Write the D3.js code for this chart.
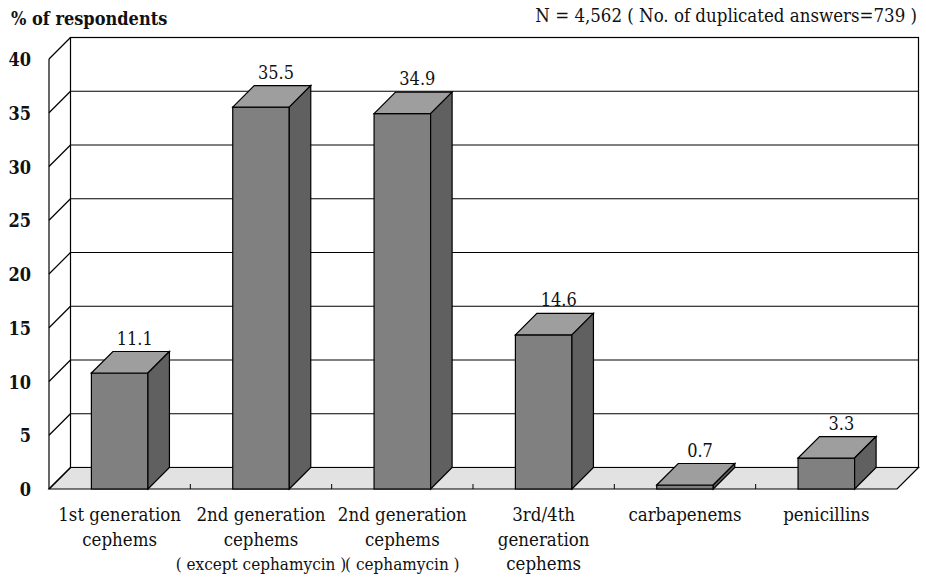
<!DOCTYPE html>
<html>
<head>
<meta charset="utf-8">
<script src="https://cdn.jsdelivr.net/npm/d3@7"></script>
<style>
  body { margin: 0; background: #fff; }
  text { font-family: "DejaVu Serif", serif; font-stretch: condensed; fill: #111; }
</style>
</head>
<body>
<svg width="926" height="577"></svg>
<script>
// data
const categories = ["1st gen", "2nd gen ex", "2nd gen cm", "3rd/4th gen", "carbapenems", "penicillins"];
const catLabels = [
  ["1st generation", "cephems"],
  ["2nd generation", "cephems", "( except cephamycin )"],
  ["2nd generation", "cephems", "( cephamycin )"],
  ["3rd/4th", "generation", "cephems"],
  ["carbapenems"],
  ["penicillins"]
];
const percents = [11.1, 35.5, 34.9, 14.6, 0.7, 3.3];
const yTicks = [0, 5, 10, 15, 20, 25, 30, 35, 40];
const yTitle = "% of respondents";
const note = "N = 4,562 ( No. of duplicated answers=739 )";

const svg = d3.select("svg");
const depth = 21.5; // 3d offset (right / up)

const x = d3.scaleBand()
  .domain(categories)
  .range([49, 897])
  .paddingInner(0.6)
  .paddingOuter(0.3);

// axis / gridline scale on the front plane
const y = d3.scaleLinear().domain([0, 40]).range([489, 59]);
// bars in the original sit a little off the gridlines
const yBar = d3.scaleLinear().domain([0, 40]).range([494, 58]);

const x0 = x.range()[0], x1 = x.range()[1];

// back wall
svg.append("rect")
  .attr("x", x0 + depth).attr("y", y(40) - depth)
  .attr("width", x1 - x0).attr("height", y(0) - y(40))
  .attr("fill", "#fff").attr("stroke", "#000").attr("stroke-width", 1.2);

// gridlines on back wall
svg.append("g").selectAll("line")
  .data(yTicks.slice(1, -1))
  .join("line")
  .attr("x1", x0 + depth).attr("x2", x1 + depth)
  .attr("y1", d => y(d) - depth).attr("y2", d => y(d) - depth)
  .attr("stroke", "#000").attr("stroke-width", 1.2);

// floor
svg.append("path")
  .attr("d", `M${x0},${y(0)} L${x1},${y(0)} L${x1 + depth},${y(0) - depth} L${x0 + depth},${y(0) - depth} Z`)
  .attr("fill", "#e2e2e2").attr("stroke", "#000").attr("stroke-width", 1.2);

// left side wall: front axis + diagonals
svg.append("line")
  .attr("x1", x0).attr("x2", x0).attr("y1", y(0)).attr("y2", y(40))
  .attr("stroke", "#000").attr("stroke-width", 1.2);
svg.append("g").selectAll("line")
  .data(yTicks)
  .join("line")
  .attr("x1", x0).attr("y1", d => y(d))
  .attr("x2", x0 + depth).attr("y2", d => y(d) - depth)
  .attr("stroke", "#000").attr("stroke-width", 1.2);

// small ticks between categories on front floor edge
svg.append("g").selectAll("line")
  .data(categories.slice(1))
  .join("line")
  .attr("x1", d => x(d) - x.step() * x.paddingInner() / 2)
  .attr("x2", d => x(d) - x.step() * x.paddingInner() / 2)
  .attr("y1", y(0)).attr("y2", y(0) - 5)
  .attr("stroke", "#000");

// tick labels
svg.append("g").selectAll("text")
  .data(yTicks)
  .join("text")
  .attr("x", 31).attr("y", d => y(d) + 7)
  .attr("text-anchor", "end")
  .attr("font-size", 18).attr("font-weight", "bold")
  .text(d => d);

// bars
const bars = svg.append("g").selectAll("g")
  .data(percents)
  .join("g");

bars.each(function(v, i) {
  const g = d3.select(this);
  const bx = x(categories[i]), bw = x.bandwidth();
  const base = y(0);
  const top = Math.min(yBar(v), base - 4);
  // front
  g.append("rect")
    .attr("x", bx).attr("y", top).attr("width", bw).attr("height", base - top)
    .attr("fill", "#808080").attr("stroke", "#000").attr("stroke-width", 1.2);
  // top
  g.append("path")
    .attr("d", `M${bx},${top} L${bx + depth},${top - depth} L${bx + bw + depth},${top - depth} L${bx + bw},${top} Z`)
    .attr("fill", "#9e9e9e").attr("stroke", "#000").attr("stroke-width", 1.2);
  // side
  g.append("path")
    .attr("d", `M${bx + bw},${top} L${bx + bw + depth},${top - depth} L${bx + bw + depth},${base - depth} L${bx + bw},${base} Z`)
    .attr("fill", "#606060").attr("stroke", "#000").attr("stroke-width", 1.2);
  // value label
  g.append("text")
    .attr("x", bx + bw / 2 + 15)
    .attr("y", top - depth - 7)
    .attr("text-anchor", "middle")
    .attr("font-size", 18)
    .text(v.toFixed(1));
});

// category labels
svg.append("g").selectAll("text")
  .data(categories)
  .join("text")
  .attr("x", d => x(d) + x.bandwidth() / 2)
  .attr("y", 521)
  .attr("text-anchor", "middle")
  .attr("font-size", 18.5)
  .selectAll("tspan")
  .data((d, i) => catLabels[i])
  .join("tspan")
  .attr("x", function() { return this.parentNode.getAttribute("x"); })
  .attr("dy", (d, j) => j === 0 ? 0 : 24.5)
  .attr("font-size", d => d.startsWith("(") ? 17 : null) // parentheses lines run into each other
  .text(d => d);

// titles
svg.append("text")
  .attr("x", 11).attr("y", 25)
  .attr("font-size", 18).attr("font-weight", "bold")
  .text(yTitle);
svg.append("text")
  .attr("x", 917).attr("y", 22)
  .attr("text-anchor", "end")
  .attr("font-size", 18.5)
  .text(note);
</script>
</body>
</html>
